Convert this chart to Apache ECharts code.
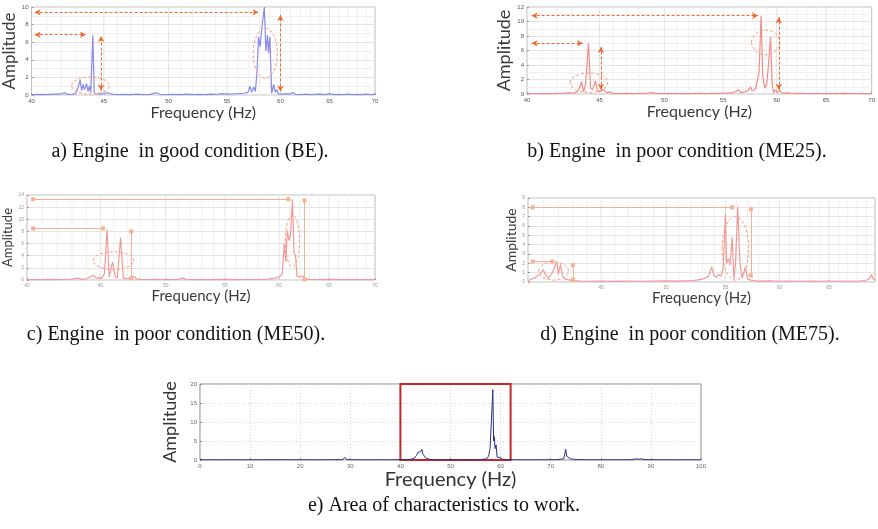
<!DOCTYPE html>
<html><head><meta charset="utf-8">
<script src="https://cdn.jsdelivr.net/npm/echarts@6/dist/echarts.min.js"></script>
<style>html,body{margin:0;padding:0;background:#fff}#c{width:878px;height:529px}</style>
</head><body><div id="c"></div>
<script>
// ---------- data ----------
// a) BE - good condition
const beHz  = [40.0,40.5,41.0,41.5,42.0,42.2,42.4,42.8,43.0,43.15,43.3,43.4,43.5,43.6,43.75,43.85,43.95,44.05,44.2,44.3,44.5,44.8,45.0,45.3,45.6,46.0,46.5,47.0,47.5,48.0,48.5,49.0,49.3,49.8,50.5,51.0,51.5,52.0,52.5,53.0,53.5,54.0,54.5,55.0,55.5,56.0,56.5,56.9,57.1,57.25,57.45,57.6,57.75,57.9,58.05,58.2,58.45,58.6,58.75,58.85,58.98,59.15,59.35,59.5,59.65,59.8,60.2,60.5,61.0,61.2,61.5,62.0,62.5,63.0,63.5,64.0,64.5,65.0,65.5,66.0,66.5,67.0,67.5,68.0,68.5,69.0,69.5,70.0];
const beAmp = [0.05,0.08,0.05,0.1,0.12,0.25,0.08,0.1,0.2,0.9,1.7,0.5,1.2,0.6,1.3,0.4,1.0,0.3,6.8,0.2,0.15,0.1,0.2,0.25,0.1,0.05,0.08,0.05,0.1,0.05,0.08,0.25,0.08,0.05,0.08,0.05,0.1,0.05,0.08,0.05,0.1,0.06,0.15,0.1,0.12,0.15,0.2,0.3,1.0,0.3,0.9,0.4,2.5,6.6,5.5,7.5,10.0,5.0,6.8,4.8,6.6,0.2,1.2,0.3,0.6,0.1,0.1,0.15,0.1,0.3,0.08,0.05,0.1,0.05,0.08,0.1,0.05,0.15,0.05,0.08,0.05,0.1,0.05,0.08,0.05,0.1,0.05,0.06];
// b) ME25
const me25Hz  = [40.0,40.5,41.0,41.5,42.0,42.5,42.8,43.1,43.4,43.6,43.7,43.85,44.0,44.2,44.35,44.5,44.7,44.85,45.0,45.3,45.5,45.7,46.0,46.5,47.0,47.5,48.0,48.5,49.0,49.3,50.0,50.5,51.0,51.5,52.0,52.5,53.0,53.5,54.0,54.5,55.0,55.5,56.0,56.4,56.6,57.0,57.3,57.5,57.65,58.0,58.3,58.5,58.65,58.85,59.05,59.2,59.4,59.55,59.7,59.9,60.05,60.3,60.5,61.0,61.5,62.0,62.5,63.0,63.5,64.0,64.5,65.0,66.0,67.0,68.0,69.0,70.0];
const me25Amp = [0.05,0.03,0.05,0.03,0.08,0.1,0.2,0.1,0.3,1.0,1.7,0.3,1.5,7.0,0.8,0.6,1.8,0.4,0.3,0.6,0.2,0.3,0.08,0.05,0.08,0.05,0.08,0.1,0.2,0.08,0.05,0.08,0.05,0.06,0.05,0.08,0.1,0.06,0.1,0.08,0.1,0.15,0.2,0.6,0.2,0.3,0.5,1.0,0.4,0.8,3.0,10.8,2.5,0.8,1.5,4.0,7.9,1.5,0.2,0.6,0.2,0.5,0.1,0.15,0.1,0.08,0.1,0.06,0.05,0.08,0.05,0.06,0.05,0.08,0.05,0.06,0.05];
// c) ME50
const me50Hz  = [40.0,40.5,41.0,41.5,42.0,42.5,43.0,43.4,43.7,44.0,44.3,44.5,44.7,44.9,45.1,45.3,45.5,45.65,45.9,46.1,46.25,46.5,46.7,47.0,47.3,47.5,47.7,48.0,48.5,49.0,49.5,50.0,50.5,51.0,51.4,51.7,52.0,53.0,54.0,55.0,56.0,57.0,58.0,59.0,59.6,60.0,60.3,60.5,60.65,60.8,60.95,61.1,61.3,61.45,61.6,61.75,62.0,62.3,62.5,63.0,63.5,64.0,65.0,66.0,67.0,68.0,69.0,70.0];
const me50Amp = [0.05,0.08,0.05,0.1,0.06,0.1,0.15,0.3,0.1,0.2,0.5,0.8,0.3,0.4,0.3,1.0,8.3,0.5,3.0,0.6,0.3,7.0,0.3,0.2,0.4,0.6,0.2,0.1,0.08,0.1,0.05,0.08,0.05,0.1,0.3,0.1,0.05,0.08,0.05,0.1,0.06,0.08,0.1,0.15,0.3,0.5,1.0,6.0,3.0,8.2,6.5,7.2,13.3,4.5,4.0,0.6,0.5,0.7,0.2,0.1,0.08,0.05,0.1,0.05,0.08,0.05,0.06,0.05];
// d) ME75
const me75Hz  = [40.0,40.2,40.5,40.8,41.0,41.2,41.35,41.6,41.9,42.0,42.15,42.3,42.5,42.8,43.0,43.5,44.0,45.0,46.0,47.0,48.0,49.0,50.0,51.0,52.0,52.5,53.0,53.5,53.8,54.0,54.2,54.4,54.6,54.8,55.0,55.1,55.25,55.4,55.6,55.75,55.9,56.1,56.3,56.5,56.8,57.0,57.3,57.6,58.0,59.0,60.0,61.0,62.0,63.0,64.0,65.0,66.0,67.0,68.0,69.0,69.4,69.6,69.8,70.0];
const me75Amp = [0.1,0.3,0.5,0.9,1.3,0.6,0.4,1.0,2.2,0.8,1.9,0.6,0.3,0.2,0.15,0.1,0.08,0.1,0.06,0.1,0.08,0.1,0.12,0.1,0.15,0.2,0.3,0.6,1.6,0.7,0.5,0.8,0.6,1.5,7.3,2.0,2.5,1.8,4.8,0.3,2.0,8.1,2.0,0.4,1.6,0.3,0.2,0.15,0.1,0.12,0.08,0.1,0.08,0.1,0.08,0.1,0.08,0.1,0.08,0.15,0.4,0.8,0.3,0.2];
// e) full range spectrum
const fullHz  = [0,5,10,15,20,25,28.5,28.9,29.3,32,35,38,40.5,42,42.8,43.2,43.5,43.8,44.0,44.3,44.5,44.8,45.2,46,48,50,52,54,56,57.2,57.6,57.9,58.2,58.45,58.6,58.75,58.9,59.1,59.3,59.6,60.0,60.4,61,63,65,68,71,72.6,73.0,73.2,73.5,74,74.6,75.5,78,82,86,87.2,87.5,87.8,88.2,88.6,92,96,100];
const fullAmp = [0.05,0.05,0.05,0.08,0.05,0.05,0.1,0.7,0.1,0.05,0.05,0.05,0.1,0.15,0.5,1.2,2.0,1.8,2.2,2.8,1.5,1.0,0.4,0.15,0.05,0.08,0.05,0.08,0.1,0.3,1.0,3.0,3.5,18.5,5.0,6.2,3.0,4.0,0.8,0.3,0.6,0.2,0.1,0.05,0.05,0.05,0.08,0.3,2.8,1.0,0.5,0.3,0.2,0.1,0.05,0.05,0.08,0.3,0.6,0.2,0.35,0.1,0.05,0.05,0.05];

// annotations [x1,y1,x2,y2] and ellipses [xLeft,yBottom,xRight,yTop]
const beArrows   = [[40.2,9.4,57.9,9.4],[40.2,6.85,43.7,6.85],[44.8,0.5,44.8,6.7],[60.0,0.4,60.0,9.1]];
const beRings    = [[42.7,0.1,45.4,2.05],[57.4,1.9,59.7,7.6]];
const me25Arrows = [[40.3,10.8,58.2,10.8],[40.3,7.0,43.8,7.0],[45.1,0.6,45.1,6.5],[60.2,0.6,60.2,10.6]];
const me25Rings  = [[42.9,0.2,45.6,2.9],[57.6,5.4,60.3,8.8]];
const me50Lines  = [[40.4,13.3,60.9,13.3],[40.4,8.5,45.2,8.5],[47.3,0.3,47.3,8.0],[62.5,0.1,62.5,13.1]];
const me50Rings  = [[44.5,1.75,47.5,4.65],[60.6,2.2,62.0,10.7]];
const me75Lines  = [[40.3,8.0,55.6,8.0],[40.3,2.2,41.6,2.2],[43.0,0.25,43.0,1.8],[57.3,0.7,57.3,7.8]];
const me75Rings  = [[40.7,0.2,42.7,2.15],[54.7,0.2,57.1,7.0]];
const workBox    = [40, 62];

// tick labels
const logTicks  = [40,45,50,55,60,65,70];
const logTicksD = [45,50,55,60,65];
const minorHz   = [41,42,43,44,46,47,48,49,51,52,53,54,56,57,58,59,61,62,63,64,66,67,68,69];
const majorHz   = [45,50,55,60,65];
const captions  = ['a) Engine  in good condition (BE).','b) Engine  in poor condition (ME25).','c) Engine  in poor condition (ME50).','d) Engine  in poor condition (ME75).','e) Area of characteristics to work.'];

// ---------- chart ----------
const zip = (a,b)=>a.map((v,i)=>[v,b[i]]);
const SANS = 'Lato';
const panels = [
  {grid:{left:28,top:7,width:347,height:88}, ymax:10, yint:2, hz:beHz, amp:beAmp, color:'#8a8ae6', arrows:beArrows, rings:beRings, style:'arrow', ticks:logTicks, nameX:16, gapX:4, nameY:17, gapY:7, minor:true},
  {grid:{left:527,top:7,width:346,height:87}, ymax:12, yint:2, hz:me25Hz, amp:me25Amp, color:'#f08c8c', arrows:me25Arrows, rings:me25Rings, style:'arrow', ticks:logTicks, nameX:16, gapX:5, nameY:18, gapY:5, minor:true},
  {grid:{left:27,top:195,width:348,height:85}, ymax:14, yint:2, hz:me50Hz, amp:me50Amp, color:'#f29a9a', arrows:me50Lines, rings:me50Rings, style:'rect', ticks:logTicks, nameX:15, gapX:8, nameY:13, gapY:9, minor:false},
  {grid:{left:528,top:198,width:347,height:84}, ymax:9, yint:1, hz:me75Hz, amp:me75Amp, color:'#f29a9a', arrows:me75Lines, rings:me75Rings, style:'rect', ticks:logTicksD, nameX:15, gapX:9, nameY:14, gapY:5, minor:false}
];

const grids=[], xAxes=[], yAxes=[], series=[];
panels.forEach((p,i)=>{
  grids.push(Object.assign({show:true, borderColor:'#bdbdbd', borderWidth:1, backgroundColor:'#fff'}, p.grid));
  xAxes.push({type:'log', logBase:10, gridIndex:i, min:40, max:70,
    name:'Frequency (Hz)', nameLocation:'middle', nameGap:p.gapX,
    nameTextStyle:{fontFamily:SANS, fontSize:p.nameX, color:'#3a3a3a'},
    axisLine:{show:false}, splitLine:{show:false},
    axisTick:{show:true, inside:true, length:2, lineStyle:{color:'#999'}, customValues:p.ticks},
    axisLabel:{fontSize:i<2?6:5, color:i<2?'#555':'#999', margin:3, customValues:p.ticks, formatter:v=>String(Math.round(v))}});
  yAxes.push({type:'value', gridIndex:i, min:0, max:p.ymax, interval:p.yint,
    name:'Amplitude', nameLocation:'middle', nameRotate:90, nameGap:p.gapY,
    nameTextStyle:{fontFamily:SANS, fontSize:p.nameY, color:'#3a3a3a'},
    axisLine:{show:false}, axisTick:{show:true, inside:true, length:2, lineStyle:{color:'#999'}},
    axisLabel:{fontSize:i<2?6:5, color:i<2?'#555':'#999', margin:3},
    splitLine:{show:true, lineStyle:{color:'#e3e3e3', width:1}},
    minorTick:{show:false, splitNumber:2},
    minorSplitLine:{show:p.minor, lineStyle:{color:'#f0f0f0', width:1}}});
  // vertical grid lines (log axis)
  const gl = minorHz.map(h=>[h,0,p.ymax,0]).concat(majorHz.map(h=>[h,0,p.ymax,1]));
  series.push({type:'custom', xAxisIndex:i, yAxisIndex:i, silent:true, z:1, data:gl,
    encode:{x:0, y:[1,2]},
    renderItem:(params,api)=>{
      const a=api.coord([api.value(0),api.value(1)]), b=api.coord([api.value(0),api.value(2)]);
      return {type:'line', shape:{x1:a[0],y1:a[1],x2:b[0],y2:b[1]}, style:{stroke:api.value(3)?'#e3e3e3':'#f0f0f0', lineWidth:1}};
    }});
  const isArrow = p.style==='arrow';
  series.push({type:'line', xAxisIndex:i, yAxisIndex:i, z:3, showSymbol:false, symbol:'none',
    data:zip(p.hz,p.amp), lineStyle:{color:p.color, width:1.2}, itemStyle:{color:p.color},
    markLine:{silent:true, animation:false,
      symbol: isArrow?['arrow','arrow']:['rect','rect'], symbolSize: isArrow?[5,6]:4,
      label:{show:false},
      lineStyle:{color: isArrow?'#f06a30':'#f7b092', type: isArrow?[3,2]:'solid', width:1},
      itemStyle:{color:'#f06a30'},
      emphasis:{disabled:true},
      data:p.arrows.map(a=>[{coord:[a[0],a[1]], itemStyle:{color:'#f06a30'}},{coord:[a[2],a[3]], itemStyle:{color:'#f06a30'}}])}});
  series.push({type:'custom', xAxisIndex:i, yAxisIndex:i, silent:true, z:4, data:p.rings,
    encode:{x:[0,2], y:[1,3]},
    renderItem:(params,api)=>{
      const a=api.coord([api.value(0),api.value(1)]), b=api.coord([api.value(2),api.value(3)]);
      return {type:'ellipse', shape:{cx:(a[0]+b[0])/2, cy:(a[1]+b[1])/2, rx:Math.abs(b[0]-a[0])/2, ry:Math.abs(b[1]-a[1])/2},
        style:{fill:null, stroke:'#f3a283', lineWidth:1, lineDash:[3,2]}};
    }});
});

// panel e
grids.push({left:200, top:384, width:501, height:76, show:true, borderColor:'#8a8a8a', borderWidth:1, backgroundColor:'#fff'});
xAxes.push({type:'value', gridIndex:4, min:0, max:100, interval:10,
  name:'Frequency (Hz)', nameLocation:'middle', nameGap:2,
  nameTextStyle:{fontFamily:SANS, fontSize:20, color:'#333'},
  axisLine:{show:false}, axisTick:{show:true, inside:true, length:2, lineStyle:{color:'#888'}},
  axisLabel:{fontSize:6, color:'#666', margin:3},
  splitLine:{show:true, lineStyle:{color:'#d6d6d6', type:[1,2]}}});
yAxes.push({type:'value', gridIndex:4, min:0, max:20, interval:5,
  name:'Amplitude', nameLocation:'middle', nameRotate:90, nameGap:12,
  nameTextStyle:{fontFamily:SANS, fontSize:18, color:'#333'},
  axisLine:{show:false}, axisTick:{show:true, inside:true, length:2, lineStyle:{color:'#888'}},
  axisLabel:{fontSize:6, color:'#666', margin:3},
  splitLine:{show:true, lineStyle:{color:'#d6d6d6', type:[1,2]}}});
series.push({type:'line', xAxisIndex:4, yAxisIndex:4, z:3, showSymbol:false, symbol:'none',
  data:zip(fullHz,fullAmp), lineStyle:{color:'#2c2f85', width:1}, itemStyle:{color:'#2c2f85'},
  markArea:{silent:true, animation:false,
    itemStyle:{color:'rgba(0,0,0,0)', borderColor:'#c1272d', borderWidth:2},
    data:[[{coord:[workBox[0],0]},{coord:[workBox[1],20]}]]}});

const capPos = [[190,152],[677,152],[176,335],[690,335],[444,506]];
const graphic = captions.map((t,k)=>({type:'text', x:capPos[k][0], y:capPos[k][1], silent:true,
  style:{text:t, font:'20px "Liberation Serif"', fill:'#111', textAlign:'center', textVerticalAlign:'middle', align:'center', verticalAlign:'middle'}}));

const chart = echarts.init(document.getElementById('c'), null, {renderer:'canvas'});
chart.setOption({animation:false, backgroundColor:'#fff', grid:grids, xAxis:xAxes, yAxis:yAxes, series, graphic});
</script></body></html>
